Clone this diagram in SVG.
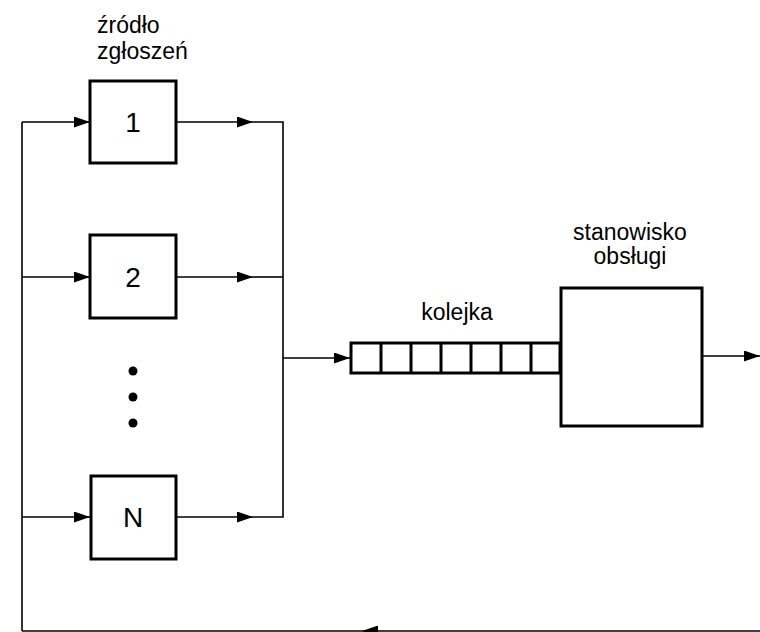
<svg xmlns="http://www.w3.org/2000/svg" width="760" height="632" viewBox="0 0 760 632">
<defs>
<marker id="ah" viewBox="0 0 16 11" refX="16" refY="5.5" markerWidth="16" markerHeight="11" markerUnits="userSpaceOnUse" orient="auto">
<path d="M0,0 L16,5.5 L0,11 Z" fill="#000"/>
</marker>
</defs>
<style>
.box{fill:#fff;stroke:#000;stroke-width:3}
.ln{fill:none;stroke:#000;stroke-width:1.6}
.t{font-family:"Liberation Sans",Arial,sans-serif;font-size:23px;fill:#000}
.n{font-family:"Liberation Sans",Arial,sans-serif;font-size:28px;fill:#000;text-anchor:middle}
</style>
<rect width="760" height="632" fill="#fff"/>
<g id="connectors">
<path class="ln" d="M22,631 L22,122"/>
<path class="ln" d="M22,122 L90,122" marker-end="url(#ah)"/>
<path class="ln" d="M22,277 L90,277" marker-end="url(#ah)"/>
<path class="ln" d="M22,517 L90,517" marker-end="url(#ah)"/>
<path class="ln" d="M176,122 L253,122" marker-end="url(#ah)"/>
<path class="ln" d="M253,122 L283,122 L283,517 L253,517"/>
<path class="ln" d="M176,517 L253,517" marker-end="url(#ah)"/>
<path class="ln" d="M176,277 L253,277" marker-end="url(#ah)"/>
<path class="ln" d="M253,277 L283,277"/>
<path class="ln" d="M283,358 L350,358" marker-end="url(#ah)"/>
<path class="ln" d="M702,356 L760,356" marker-end="url(#ah)"/>
<path class="ln" d="M760,631 L362,631" marker-end="url(#ah)"/>
<path class="ln" d="M362,631 L22,631"/>
</g>
<g id="source-label">
<text class="t" x="97" y="33">źródło</text>
<text class="t" x="97" y="59">zgłoszeń</text>
</g>
<g id="node-1">
<rect class="box" x="90" y="81" width="86" height="82"/>
<text class="n" x="133" y="132">1</text>
</g>
<g id="node-2">
<rect class="box" x="90" y="235" width="86" height="83"/>
<text class="n" x="133" y="287">2</text>
</g>
<g id="dots">
<circle cx="133" cy="371" r="4.5"/>
<circle cx="133" cy="397" r="4.5"/>
<circle cx="133" cy="423" r="4.5"/>
</g>
<g id="node-N">
<rect class="box" x="91" y="476" width="85" height="83"/>
<text class="n" x="133" y="527">N</text>
</g>
<g id="queue">
<text class="t" x="457" y="320" text-anchor="middle">kolejka</text>
<rect class="box" x="351" y="343" width="209" height="30"/>
<path class="ln" style="stroke-width:3" d="M381,343 V373 M411,343 V373 M441,343 V373 M471,343 V373 M501,343 V373 M531,343 V373"/>
</g>
<g id="server">
<text class="t" x="630" y="240" text-anchor="middle">stanowisko</text>
<text class="t" x="630" y="264" text-anchor="middle">obsługi</text>
<rect class="box" x="561" y="288" width="141" height="138"/>
</g>
</svg>
